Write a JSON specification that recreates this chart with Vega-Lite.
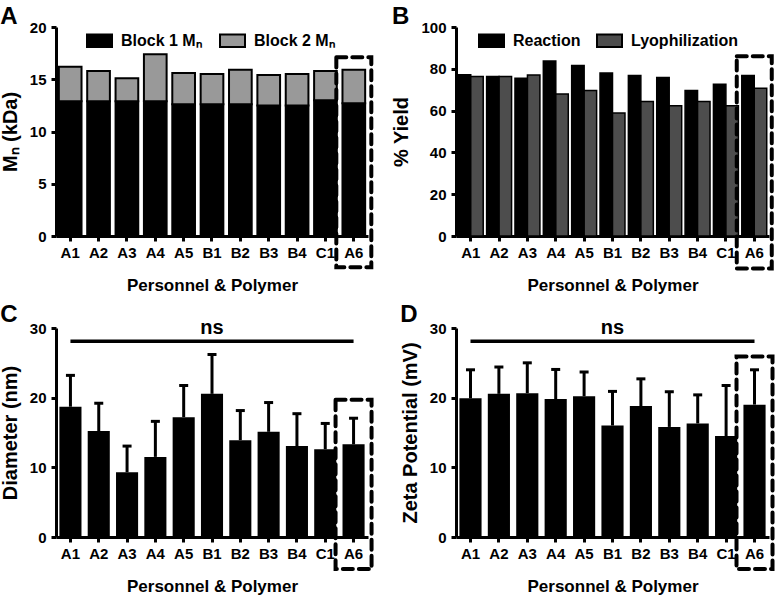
{
  "$schema": "https://vega.github.io/schema/vega-lite/v6.json",
  "padding": {"left": 0, "top": 5, "right": 2, "bottom": 2},
  "background": "white",
  "datasets": {
    "mn": [
      {"p": "A1", "block": "Block 1 Mₙ", "v": 12.9}, {"p": "A1", "block": "Block 2 Mₙ", "v": 3.3},
      {"p": "A2", "block": "Block 1 Mₙ", "v": 12.9}, {"p": "A2", "block": "Block 2 Mₙ", "v": 2.9},
      {"p": "A3", "block": "Block 1 Mₙ", "v": 12.9}, {"p": "A3", "block": "Block 2 Mₙ", "v": 2.2},
      {"p": "A4", "block": "Block 1 Mₙ", "v": 12.9}, {"p": "A4", "block": "Block 2 Mₙ", "v": 4.5},
      {"p": "A5", "block": "Block 1 Mₙ", "v": 12.6}, {"p": "A5", "block": "Block 2 Mₙ", "v": 3.0},
      {"p": "B1", "block": "Block 1 Mₙ", "v": 12.6}, {"p": "B1", "block": "Block 2 Mₙ", "v": 2.9},
      {"p": "B2", "block": "Block 1 Mₙ", "v": 12.6}, {"p": "B2", "block": "Block 2 Mₙ", "v": 3.3},
      {"p": "B3", "block": "Block 1 Mₙ", "v": 12.5}, {"p": "B3", "block": "Block 2 Mₙ", "v": 2.9},
      {"p": "B4", "block": "Block 1 Mₙ", "v": 12.5}, {"p": "B4", "block": "Block 2 Mₙ", "v": 3.0},
      {"p": "C1", "block": "Block 1 Mₙ", "v": 13.0}, {"p": "C1", "block": "Block 2 Mₙ", "v": 2.8},
      {"p": "A6", "block": "Block 1 Mₙ", "v": 12.7}, {"p": "A6", "block": "Block 2 Mₙ", "v": 3.2}
    ],
    "yield": [
      {"p": "A1", "s": "Reaction", "v": 77.1}, {"p": "A1", "s": "Lyophilization", "v": 76.3},
      {"p": "A2", "s": "Reaction", "v": 76.3}, {"p": "A2", "s": "Lyophilization", "v": 76.3},
      {"p": "A3", "s": "Reaction", "v": 75.5}, {"p": "A3", "s": "Lyophilization", "v": 77.0},
      {"p": "A4", "s": "Reaction", "v": 83.7}, {"p": "A4", "s": "Lyophilization", "v": 68.0},
      {"p": "A5", "s": "Reaction", "v": 81.6}, {"p": "A5", "s": "Lyophilization", "v": 69.6},
      {"p": "B1", "s": "Reaction", "v": 78.0}, {"p": "B1", "s": "Lyophilization", "v": 58.8},
      {"p": "B2", "s": "Reaction", "v": 76.8}, {"p": "B2", "s": "Lyophilization", "v": 64.4},
      {"p": "B3", "s": "Reaction", "v": 75.8}, {"p": "B3", "s": "Lyophilization", "v": 62.3},
      {"p": "B4", "s": "Reaction", "v": 69.6}, {"p": "B4", "s": "Lyophilization", "v": 64.4},
      {"p": "C1", "s": "Reaction", "v": 72.6}, {"p": "C1", "s": "Lyophilization", "v": 62.3},
      {"p": "A6", "s": "Reaction", "v": 76.8}, {"p": "A6", "s": "Lyophilization", "v": 70.7}
    ],
    "diam": [
      {"p": "A1", "v": 18.7, "hi": 23.2}, {"p": "A2", "v": 15.2, "hi": 19.2},
      {"p": "A3", "v": 9.3, "hi": 13.05}, {"p": "A4", "v": 11.5, "hi": 16.6},
      {"p": "A5", "v": 17.2, "hi": 21.75}, {"p": "B1", "v": 20.55, "hi": 26.2},
      {"p": "B2", "v": 13.9, "hi": 18.15}, {"p": "B3", "v": 15.1, "hi": 19.3},
      {"p": "B4", "v": 13.05, "hi": 17.7}, {"p": "C1", "v": 12.6, "hi": 16.3},
      {"p": "A6", "v": 13.3, "hi": 17.05}
    ],
    "zeta": [
      {"p": "A1", "v": 19.9, "hi": 24.0}, {"p": "A2", "v": 20.55, "hi": 24.4},
      {"p": "A3", "v": 20.65, "hi": 25.0}, {"p": "A4", "v": 19.8, "hi": 24.05},
      {"p": "A5", "v": 20.2, "hi": 23.7}, {"p": "B1", "v": 16.0, "hi": 20.9},
      {"p": "B2", "v": 18.8, "hi": 22.7}, {"p": "B3", "v": 15.8, "hi": 20.85},
      {"p": "B4", "v": 16.3, "hi": 20.4}, {"p": "C1", "v": 14.5, "hi": 21.75},
      {"p": "A6", "v": 19.0, "hi": 24.0}
    ],
    "boxA": [{"p": "A6", "v": -3.0, "hi": 17.1}],
    "boxB": [{"p": "A6", "v": -15.5, "hi": 86}],
    "boxC": [{"p": "A6", "v": -4.6, "hi": 19.7}],
    "boxD": [{"p": "A6", "v": -4.6, "hi": 25.9}],
    "nsC": [{"p": "A1", "p2": "A6", "v": 28.1}],
    "nsD": [{"p": "A1", "p2": "A6", "v": 28.1}],
    "nsTxt": [{"p": "B1", "v": 29.1, "t": "ns"}]
  },
  "columns": 2,
  "spacing": {"row": 10, "column": 17},
  "concat": [
    {
      "width": 312, "height": 209,
      "title": {"text": "A"},
      "layer": [
        {
          "data": {"name": "mn"},
          "mark": {"type": "bar", "stroke": "black", "strokeWidth": 2},
          "encoding": {
            "x": {"field": "p", "type": "nominal", "scale": {"domain": ["A1","A2","A3","A4","A5","B1","B2","B3","B4","C1","A6"], "paddingInner": 0.2, "paddingOuter": 0.1}, "axis": {"title": "Personnel & Polymer"}},
            "y": {"field": "v", "type": "quantitative", "scale": {"domain": [0, 20]}, "axis": {"values": [0, 5, 10, 15, 20], "title": "Mₙ (kDa)"}},
            "color": {"field": "block", "type": "nominal", "scale": {"domain": ["Block 1 Mₙ", "Block 2 Mₙ"], "range": ["black", "#999999"]},
              "legend": {"orient": "none", "legendX": 30, "legendY": 0, "direction": "horizontal", "title": null, "columnPadding": 14}},
            "order": {"field": "block", "sort": "ascending"}
          }
        },
        {
          "data": {"name": "boxA"},
          "mark": {"type": "bar", "width": 35, "fill": "transparent", "stroke": "black", "strokeWidth": 4, "strokeDash": [10, 6], "strokeCap": "round"},
          "encoding": {
            "x": {"field": "p", "type": "nominal"},
            "y": {"field": "v", "type": "quantitative", "title": "Mₙ (kDa)"},
            "y2": {"field": "hi"}
          }
        }
      ]
    },
    {
      "width": 313, "height": 209,
      "title": {"text": "B"},
      "layer": [
        {
          "data": {"name": "yield"},
          "mark": {"type": "bar", "stroke": "black", "strokeWidth": 1.5},
          "encoding": {
            "x": {"field": "p", "type": "nominal", "scale": {"domain": ["A1","A2","A3","A4","A5","B1","B2","B3","B4","C1","A6"], "paddingInner": 0.12, "paddingOuter": 0.08}, "axis": {"title": "Personnel & Polymer"}},
            "xOffset": {"field": "s", "type": "nominal", "scale": {"domain": ["Reaction", "Lyophilization"]}},
            "y": {"field": "v", "type": "quantitative", "scale": {"domain": [0, 100]}, "axis": {"values": [0, 20, 40, 60, 80, 100], "title": "% Yield"}},
            "color": {"field": "s", "type": "nominal", "scale": {"domain": ["Reaction", "Lyophilization"], "range": ["black", "#4d4d4d"]},
              "legend": {"orient": "none", "legendX": 22, "legendY": 0, "direction": "horizontal", "title": null, "columnPadding": 12}}
          }
        },
        {
          "data": {"name": "boxB"},
          "mark": {"type": "bar", "width": 35, "fill": "transparent", "stroke": "black", "strokeWidth": 4, "strokeDash": [10, 6], "strokeCap": "round"},
          "encoding": {
            "x": {"field": "p", "type": "nominal"},
            "y": {"field": "v", "type": "quantitative", "title": "% Yield"},
            "y2": {"field": "hi"}
          }
        }
      ]
    },
    {
      "width": 312, "height": 209,
      "title": {"text": "C"},
      "layer": [
        {
          "data": {"name": "diam"},
          "mark": {"type": "bar", "color": "black"},
          "encoding": {
            "x": {"field": "p", "type": "nominal", "scale": {"domain": ["A1","A2","A3","A4","A5","B1","B2","B3","B4","C1","A6"], "paddingInner": 0.22, "paddingOuter": 0.12}, "axis": {"title": "Personnel & Polymer"}},
            "y": {"field": "v", "type": "quantitative", "scale": {"domain": [0, 30]}, "axis": {"values": [0, 10, 20, 30], "title": "Diameter (nm)"}}
          }
        },
        {
          "data": {"name": "diam"},
          "mark": {"type": "rule", "color": "black", "strokeWidth": 3},
          "encoding": {
            "x": {"field": "p", "type": "nominal"},
            "y": {"field": "v", "type": "quantitative", "title": "Diameter (nm)"},
            "y2": {"field": "hi"}
          }
        },
        {
          "data": {"name": "diam"},
          "mark": {"type": "tick", "color": "black", "thickness": 3, "size": 9, "opacity": 1},
          "encoding": {
            "x": {"field": "p", "type": "nominal"},
            "y": {"field": "hi", "type": "quantitative", "title": "Diameter (nm)"}
          }
        },
        {
          "data": {"name": "nsC"},
          "mark": {"type": "rule", "color": "black", "strokeWidth": 3.5},
          "encoding": {
            "x": {"field": "p", "type": "nominal"},
            "x2": {"field": "p2"},
            "y": {"field": "v", "type": "quantitative", "title": "Diameter (nm)"}
          }
        },
        {
          "data": {"name": "nsTxt"},
          "mark": {"type": "text", "color": "black", "fontSize": 20, "fontWeight": "bold", "baseline": "alphabetic", "font": "Liberation Sans"},
          "encoding": {
            "x": {"field": "p", "type": "nominal"},
            "y": {"field": "v", "type": "quantitative", "title": "Diameter (nm)"},
            "text": {"field": "t"}
          }
        },
        {
          "data": {"name": "boxC"},
          "mark": {"type": "bar", "width": 36, "fill": "transparent", "stroke": "black", "strokeWidth": 4, "strokeDash": [10, 6], "strokeCap": "round"},
          "encoding": {
            "x": {"field": "p", "type": "nominal"},
            "y": {"field": "v", "type": "quantitative", "title": "Diameter (nm)"},
            "y2": {"field": "hi"}
          }
        }
      ]
    },
    {
      "width": 313, "height": 209,
      "title": {"text": "D"},
      "layer": [
        {
          "data": {"name": "zeta"},
          "mark": {"type": "bar", "color": "black"},
          "encoding": {
            "x": {"field": "p", "type": "nominal", "scale": {"domain": ["A1","A2","A3","A4","A5","B1","B2","B3","B4","C1","A6"], "paddingInner": 0.22, "paddingOuter": 0.12}, "axis": {"title": "Personnel & Polymer"}},
            "y": {"field": "v", "type": "quantitative", "scale": {"domain": [0, 30]}, "axis": {"values": [0, 10, 20, 30], "title": "Zeta Potential (mV)"}}
          }
        },
        {
          "data": {"name": "zeta"},
          "mark": {"type": "rule", "color": "black", "strokeWidth": 3},
          "encoding": {
            "x": {"field": "p", "type": "nominal"},
            "y": {"field": "v", "type": "quantitative", "title": "Zeta Potential (mV)"},
            "y2": {"field": "hi"}
          }
        },
        {
          "data": {"name": "zeta"},
          "mark": {"type": "tick", "color": "black", "thickness": 3, "size": 9, "opacity": 1},
          "encoding": {
            "x": {"field": "p", "type": "nominal"},
            "y": {"field": "hi", "type": "quantitative", "title": "Zeta Potential (mV)"}
          }
        },
        {
          "data": {"name": "nsD"},
          "mark": {"type": "rule", "color": "black", "strokeWidth": 3.5},
          "encoding": {
            "x": {"field": "p", "type": "nominal"},
            "x2": {"field": "p2"},
            "y": {"field": "v", "type": "quantitative", "title": "Zeta Potential (mV)"}
          }
        },
        {
          "data": {"name": "nsTxt"},
          "mark": {"type": "text", "color": "black", "fontSize": 20, "fontWeight": "bold", "baseline": "alphabetic", "font": "Liberation Sans"},
          "encoding": {
            "x": {"field": "p", "type": "nominal"},
            "y": {"field": "v", "type": "quantitative", "title": "Zeta Potential (mV)"},
            "text": {"field": "t"}
          }
        },
        {
          "data": {"name": "boxD"},
          "mark": {"type": "bar", "width": 36, "fill": "transparent", "stroke": "black", "strokeWidth": 4, "strokeDash": [10, 6], "strokeCap": "round"},
          "encoding": {
            "x": {"field": "p", "type": "nominal"},
            "y": {"field": "v", "type": "quantitative", "title": "Zeta Potential (mV)"},
            "y2": {"field": "hi"}
          }
        }
      ]
    }
  ],
  "resolve": {"scale": {"color": "independent"}},
  "config": {
    "font": "Liberation Sans",
    "view": {"stroke": null},
    "axis": {
      "domainColor": "black", "domainWidth": 3, "tickColor": "black", "tickWidth": 3, "tickSize": 5,
      "labelColor": "black", "labelFont": "Liberation Sans", "labelFontWeight": "bold", "labelFontSize": 15,
      "titleColor": "black", "titleFont": "Liberation Sans", "titleFontWeight": "bold", "titleFontSize": 20, "grid": false
    },
    "axisX": {"labelAngle": 0, "labelPadding": 4, "titlePadding": 17, "titleFontSize": 17},
    "axisY": {"labelPadding": 5, "titlePadding": 9, "labelFontSize": 15},
    "legend": {
      "symbolType": "M-1,-0.5H1V0.5H-1Z", "symbolSize": 625, "symbolStrokeColor": "black", "symbolStrokeWidth": 2,
      "labelFontSize": 16, "labelFontWeight": "bold", "labelColor": "black", "labelFont": "Liberation Sans", "labelOffset": 8, "symbolOpacity": 1
    },
    "title": {"fontSize": 24, "fontWeight": "bold", "anchor": "start", "frame": "bounds", "color": "black", "offset": -9, "font": "Liberation Sans"}
  }
}
